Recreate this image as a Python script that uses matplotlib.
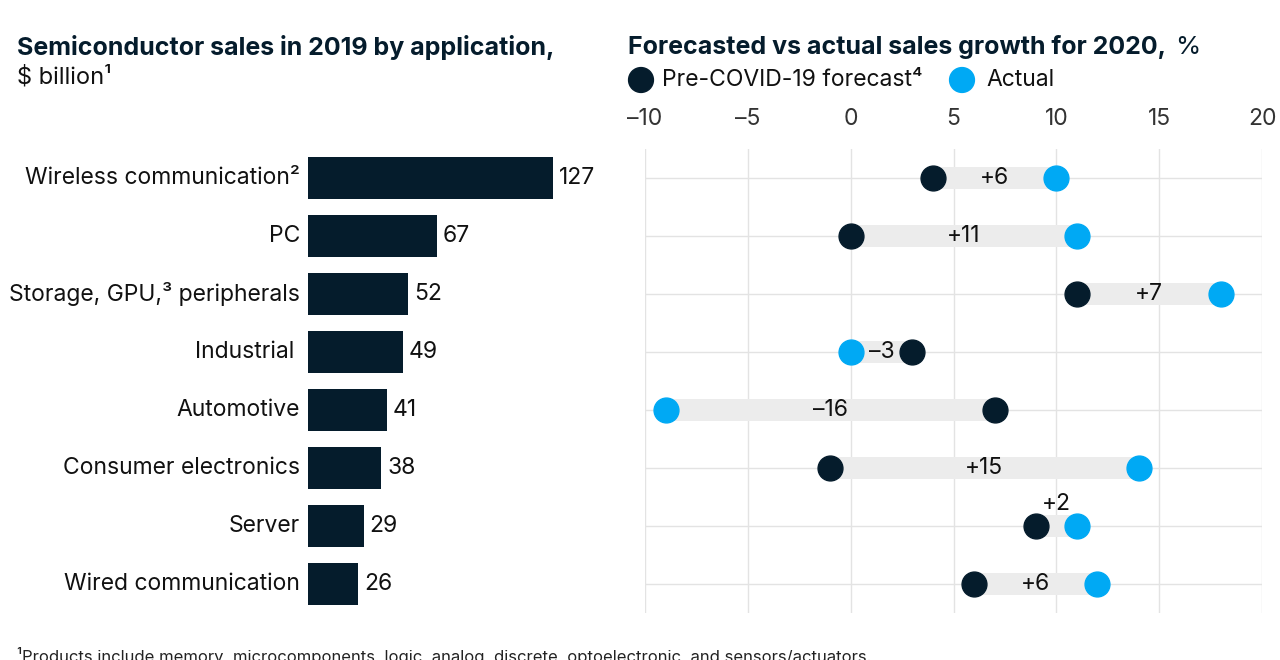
import matplotlib
matplotlib.use("Agg")
import matplotlib.pyplot as plt

plt.rcParams['font.family'] = ['Inter', 'DejaVu Sans']

# data
categorias = ["Wireless communication²", "PC", "Storage, GPU,³ peripherals", "Industrial ",
              "Automotive", "Consumer electronics", "Server", "Wired communication"]
ventas = [127, 67, 52, 49, 41, 38, 29, 26]
pronostico = [4, 0, 11, 3, 7, -1, 9, 6]
real = [10, 11, 18, 0, -9, 14, 11, 12]
etiquetas = ["+6", "+11", "+7", "–3", "–16", "+15", "+2", "+6"]

navy = "#051c2c"
azul = "#00a9f4"
W, H = 1280, 660

fig = plt.figure(figsize=(12.8, 6.6), dpi=100)

def px(x0, y0, x1, y1):
    return [x0 / W, 1 - y1 / H, (x1 - x0) / W, (y1 - y0) / H]

# izquierda: barras
ax1 = fig.add_axes(px(308, 149, 553, 613))
n = len(categorias)
ax1.barh(range(n), ventas, height=0.72, color=navy)
ax1.set_xlim(0, 127)
ax1.set_ylim(n - 0.5, -0.5)
for i, v in enumerate(ventas):
    ax1.text(v + 3, i, str(v), va="center", ha="left", fontsize=16.5, color="#111")
    ax1.text(-4, i, categorias[i], va="center", ha="right", fontsize=16.5, color="#111")
ax1.axis("off")

# derecha: puntos
ax2 = fig.add_axes(px(645, 149, 1262, 613))
ax2.set_xlim(-10, 20)
ax2.set_ylim(n - 0.5, -0.5)
for t in range(-10, 21, 5):
    ax2.axvline(t, color="#e3e3e3", lw=1, zorder=0)
for i in range(n):
    ax2.axhline(i, color="#e3e3e3", lw=1, zorder=0)
    a, b = sorted([pronostico[i], real[i]])
    ax2.barh(i, b - a, left=a, height=0.38, color="#ececec", zorder=1)
    ax2.scatter(pronostico[i], i, s=320, color=navy, zorder=3)
    ax2.scatter(real[i], i, s=320, color=azul, zorder=3)
    mid = (pronostico[i] + real[i]) / 2
    if i == 6:
        ax2.text(mid, i - 0.38, etiquetas[i], ha="center", va="center", fontsize=16.5, color="#111")
    else:
        ax2.text(mid, i, etiquetas[i], ha="center", va="center", fontsize=16.5, color="#111", zorder=4)
ax2.xaxis.tick_top()
ax2.set_xticks(range(-10, 21, 5))
ax2.set_xticklabels(["–10", "–5", "0", "5", "10", "15", "20"])
ax2.tick_params(axis="x", length=0, labelsize=16.5, labelcolor="#333", pad=14)
ax2.set_yticks([])
for s in ax2.spines.values():
    s.set_visible(False)

# textos
fig.text(17 / W, 1 - 47 / H, "Semiconductor sales in 2019 by application,", fontsize=18,
         fontweight="bold", color=navy, va="center")
fig.text(17 / W, 1 - 77 / H, "$ billion¹", fontsize=17, color="#111", va="center")
titulo = fig.text(628 / W, 1 - 47 / H, "Forecasted vs actual sales growth for 2020,", fontsize=18,
                  fontweight="bold", color=navy, va="center")
fig.text(1175 / W, 1 - 47 / H, "%", fontsize=18.5, color=navy, va="center")
fig.text(662 / W, 1 - 80 / H, "Pre-COVID-19 forecast⁴", fontsize=16.5, color="#111", va="center")
fig.text(986 / W, 1 - 80 / H, "Actual", fontsize=16.5, color="#111", va="center")
axl = fig.add_axes([0, 0, 1, 1], zorder=-1)
axl.set_xlim(0, W)
axl.set_ylim(H, 0)
axl.axis("off")
axl.scatter([641, 962], [80, 80], s=320, color=[navy, azul])
fig.text(17 / W, 1 - 656 / H, "¹Products include memory, microcomponents, logic, analog, discrete, optoelectronic, and sensors/actuators.",
         fontsize=12, color="#222", va="center")

fig.savefig("out.png", dpi=100)
